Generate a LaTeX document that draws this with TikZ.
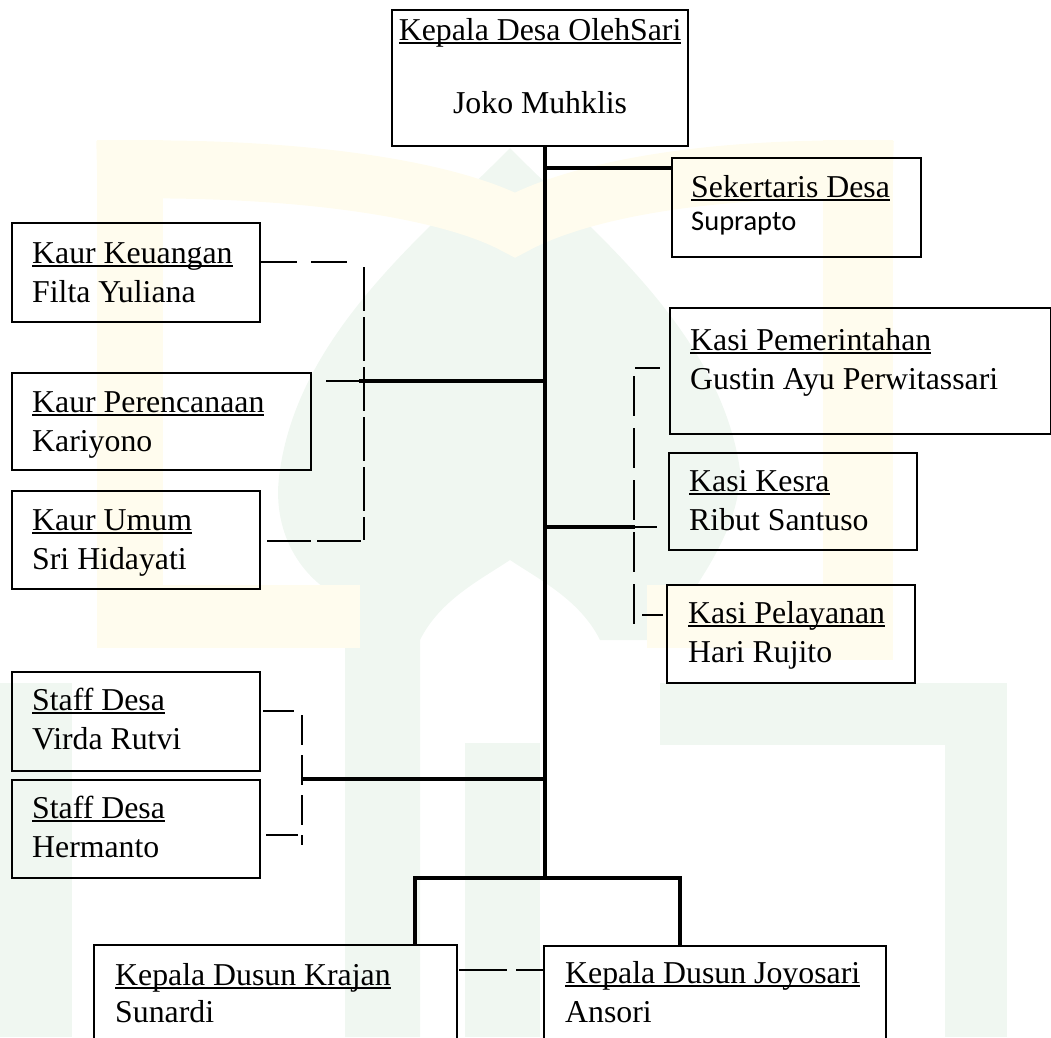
\documentclass[tikz,border=0pt]{standalone}
\usepackage{fontspec}
\setmainfont{Liberation Serif}
\newfontfamily\calibrifont{Carlito}
\usetikzlibrary{positioning}

\definecolor{wmyellow}{RGB}{255,252,238}
\definecolor{wmgreen}{RGB}{240,247,241}

\newsavebox\ulbox
\newcommand{\ulined}[1]{\sbox\ulbox{#1}\usebox\ulbox\llap{\rule[-0.115em]{\wd\ulbox}{0.055em}}}

\begin{document}
\begin{tikzpicture}[x=1pt,y=-1pt,
    box/.style={draw, line width=2.2pt, inner sep=0pt, anchor=north west},
    txt/.style={inner sep=0pt, align=left, font=\fontsize{31.8}{39}\selectfont},
    spine/.style={line width=3.8pt},
    thinln/.style={line width=1.2pt},
    dashln/.style={line width=1.2pt, dash pattern=on 44pt off 6pt}]

    \useasboundingbox (0,0) rectangle (1051,1037);
    \clip (0,0) rectangle (1051,1037);

    % watermark
    \fill[wmgreen] (510,148) .. controls (430,230) and (300,330) .. (280,470)
        .. controls (270,530) and (300,580) .. (345,600) -- (345,1037) -- (420,1037) -- (420,640)
        .. controls (440,600) and (480,580) .. (510,560) .. controls (540,580) and (580,600) .. (600,640)
        -- (660,640) .. controls (700,580) and (740,530) .. (740,470)
        .. controls (720,330) and (590,230) .. (510,148) -- cycle;
    \fill[wmgreen] (0,683) rectangle (72,1037);
    \fill[wmgreen] (465,743) rectangle (540,1037);
    \fill[wmgreen] (660,683) rectangle (1007,745);
    \fill[wmgreen] (945,683) rectangle (1007,1037);
    \fill[wmyellow] (97,140) rectangle (163,648);
    \fill[wmyellow] (823,140) rectangle (893,660);
    \fill[wmyellow] (97,585) rectangle (360,648);
    \fill[wmyellow] (647,585) rectangle (893,648);
    \draw[wmyellow, line width=58pt] (97,170) .. controls (300,165) and (450,190) .. (515,225)
        .. controls (580,190) and (710,165) .. (893,170);

    % boxes
    \node[box, minimum width=296, minimum height=136] (kades) at (391,9) {};
    \node[box, minimum width=249, minimum height=99] (sekdes) at (671,157) {};
    \node[box, minimum width=248, minimum height=99] (kaurkeu) at (11,222) {};
    \node[box, minimum width=299, minimum height=97] (kaurren) at (11,372) {};
    \node[box, minimum width=248, minimum height=98] (kaurumum) at (11,490) {};
    \node[box, minimum width=381, minimum height=126] (kasipem) at (669,307) {};
    \node[box, minimum width=248, minimum height=97] (kasikesra) at (668,452) {};
    \node[box, minimum width=248, minimum height=98] (kasipel) at (666,584) {};
    \node[box, minimum width=248, minimum height=99] (staffa) at (11,671) {};
    \node[box, minimum width=248, minimum height=98] (staffb) at (11,779) {};
    \node[box, minimum width=363, minimum height=150] (kadusa) at (93,944) {};
    \node[box, minimum width=342, minimum height=150] (kadusb) at (543,945) {};

    % texts
    \node[txt, align=center, font=\fontsize{31.8}{36.5}\selectfont, below=5.5pt of kades.north] (kadest)
        {\strut\ulined{Kepala Desa OlehSari}\\\strut\\\strut Joko Muhklis};
    \node[txt, below right=12.7pt and 20pt of sekdes.north west] (sekdest)
        {\strut\ulined{Sekertaris Desa}\\[-6pt]{\calibrifont\fontsize{28.5}{33}\selectfont Suprapto}};
    \node[txt, below right=13.7pt and 21pt of kaurkeu.north west] (kaurkeut)
        {\strut\ulined{Kaur Keuangan}\\\strut Filta Yuliana};
    \node[txt, below right=12.7pt and 21pt of kaurren.north west] (kaurrent)
        {\strut\ulined{Kaur Perencanaan}\\\strut Kariyono};
    \node[txt, below right=12.7pt and 21pt of kaurumum.north west] (kaurumumt)
        {\strut\ulined{Kaur Umum}\\\strut Sri Hidayati};
    \node[txt, below right=15.7pt and 21pt of kasipem.north west] (kasipemt)
        {\strut\ulined{Kasi Pemerintahan}\\\strut Gustin Ayu Perwitassari};
    \node[txt, below right=11.7pt and 21pt of kasikesra.north west] (kasikesrat)
        {\strut\ulined{Kasi Kesra}\\\strut Ribut Santuso};
    \node[txt, below right=11.7pt and 22pt of kasipel.north west] (kasipelt)
        {\strut\ulined{Kasi Pelayanan}\\\strut Hari Rujito};
    \node[txt, below right=11.7pt and 21pt of staffa.north west] (staffat)
        {\strut\ulined{Staff Desa}\\\strut Virda Rutvi};
    \node[txt, below right=11.7pt and 21pt of staffb.north west] (staffbt)
        {\strut\ulined{Staff Desa}\\\strut Hermanto};
    \node[txt, below right=13.7pt and 22pt of kadusa.north west] (kadusat)
        {\strut\ulined{Kepala Dusun Krajan}\\[-2pt]\strut Sunardi};
    \node[txt, below right=10.7pt and 22pt of kadusb.north west] (kadusbt)
        {\strut\ulined{Kepala Dusun Joyosari}\\\strut Ansori};

    % junctions on the trunk
    \coordinate (jsek) at (545,168);
    \coordinate (jkaur) at (545,381);
    \coordinate (jkasi) at (545,527);
    \coordinate (jstaff) at (546,779);
    \coordinate (jdus) at (545,878);
    \coordinate (dusl) at (415,878);
    \coordinate (dusr) at (680,878);

    % trunk and branches
    \draw[spine] (kades.south -| jdus) -- (jdus);
    \draw[spine] (jsek) -- (jsek -| sekdes.west);
    \draw[spine] (jkaur) -- (359,381);
    \draw[thinln] (359,381) -- (326,381);
    \draw[spine] (jkasi) -- (635,527);
    \draw[thinln] (635,527) -- (657,527);
    \draw[spine] (jstaff) -- (302,779);
    \draw[spine] (kadusa.north -| dusl) -- (dusl) -- (dusr) -- (kadusb.north -| dusr);

    % dashed brackets
    \draw[dashln, dash pattern=on 36pt off 14pt] (kaurkeu.north east |- 0,262) -- (353,262);
    \draw[dashln] (364,267) -- (364,540);
    \draw[dashln] (267,541) -- (361,541);
    \draw[thinln] (635,368) -- (660,368);
    \draw[dashln, dash pattern=on 40pt off 12pt] (634,376) -- (634,630);
    \draw[thinln] (642,615) -- (663,615);
    \draw[thinln] (263,711) -- (294,711);
    \draw[dashln, dash pattern=on 30pt off 10pt] (302,715) -- (302,845);
    \draw[thinln] (266,835) -- (298,835);
    \draw[dashln, dash pattern=on 48pt off 9pt] (459,970) -- (543,970);
\end{tikzpicture}
\end{document}
